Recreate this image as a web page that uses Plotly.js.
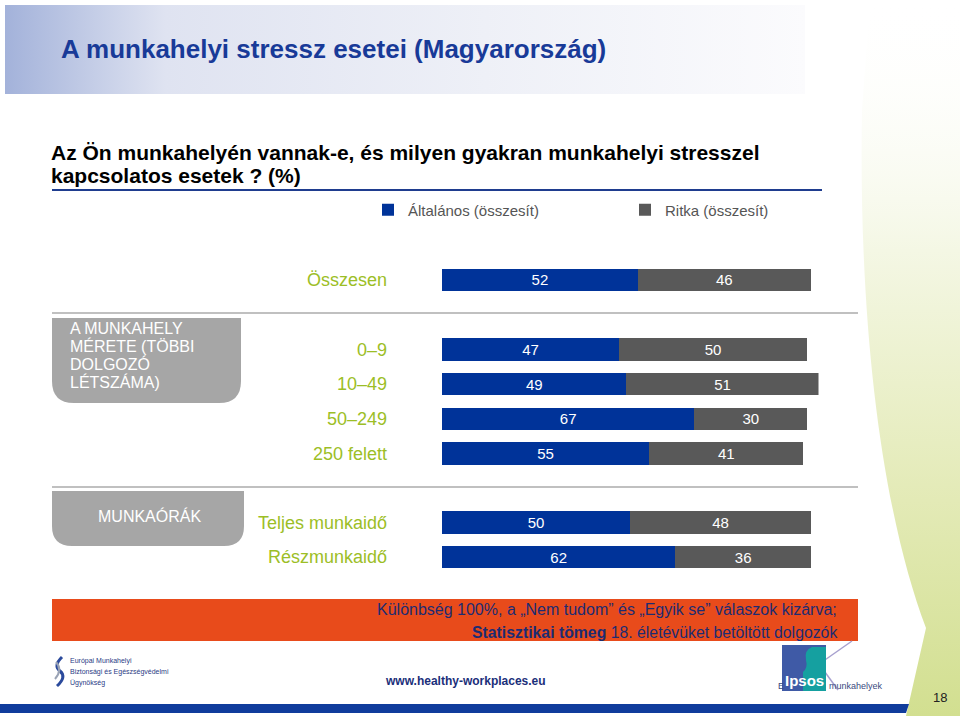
<!DOCTYPE html>
<html>
<head>
<meta charset="utf-8">
<script src="https://cdn.plot.ly/plotly-3.0.1.min.js"></script>
<style>
html,body{margin:0;padding:0;background:#fff;}
#chart{width:960px;height:716px;}
</style>
</head>
<body>
<div id="chart"></div>
<script>
// ---- data ----
const seriesNames = ['Általános (összesít)', 'Ritka (összesít)'];
const catTotal = ['Összesen'];
const catSize = ['0–9', '10–49', '50–249', '250 felett'];
const catHours = ['Teljes munkaidő', 'Részmunkaidő'];
const generalTotal = [52];
const rareTotal = [46];
const generalSize = [47, 49, 67, 55];
const rareSize = [50, 51, 30, 41];
const generalHours = [50, 62];
const rareHours = [48, 36];
const sizeBoxLines = ['A MUNKAHELY', 'MÉRETE (TÖBBI', 'DOLGOZÓ', 'LÉTSZÁMA)'];
const hoursBoxLabel = 'MUNKAÓRÁK';

// ---- helpers ----
const W = 960, H = 716;
const X = p => p / W;
const Y = p => 1 - p / H;
const P = s => s.replace(/(-?[\d.]+),(-?[\d.]+)/g, (m, a, b) => X(+a).toFixed(5) + ',' + Y(+b).toFixed(5));
const FONT = 'Liberation Sans, Arial, sans-serif';
const BLUE = '#003399', GREY = '#595959', LABEL = '#9cbe26';

function bar(name, cats, vals, color, yax, show) {
  return {
    type: 'bar', orientation: 'h', name: name, y: cats, x: vals,
    xaxis: 'x', yaxis: yax,
    marker: {color: color, line: {width: 0}},
    texttemplate: '%{x}', textposition: 'inside', insidetextanchor: 'middle', textangle: 0,
    textfont: {color: '#ffffff', size: 15, family: FONT},
    constraintext: 'none',
    showlegend: show, legendgroup: name, hoverinfo: 'skip'
  };
}

const data = [
  bar(seriesNames[0], catTotal, generalTotal, BLUE, 'y', true),
  bar(seriesNames[1], catTotal, rareTotal, GREY, 'y', true),
  bar(seriesNames[0], catSize, generalSize, BLUE, 'y2', false),
  bar(seriesNames[1], catSize, rareSize, GREY, 'y2', false),
  bar(seriesNames[0], catHours, generalHours, BLUE, 'y3', false),
  bar(seriesNames[1], catHours, rareHours, GREY, 'y3', false)
];

function yax(cats, top, bottom) {
  return {
    domain: [Y(bottom), Y(top)], anchor: 'x', type: 'category',
    range: [cats.length - 0.5, -0.5],
    showgrid: false, zeroline: false, showline: false, ticks: '',
    tickfont: {size: 18, color: LABEL, family: FONT},
    ticklabelstandoff: 54, fixedrange: true
  };
}

function svgUri(s) { return 'data:image/svg+xml;charset=utf-8,' + encodeURIComponent(s); }
const headerSvg = "<svg xmlns='http://www.w3.org/2000/svg' width='800' height='89' viewBox='0 0 800 89' preserveAspectRatio='none'><defs><linearGradient id='g' x1='0' x2='1' y1='0' y2='0'><stop offset='0' stop-color='#a3b2da'/><stop offset='0.2' stop-color='#dfe3f1'/><stop offset='0.6' stop-color='#eef0f7'/><stop offset='1' stop-color='#fbfbfd'/></linearGradient></defs><rect width='800' height='89' fill='url(#g)'/></svg>";
const swooshSvg = "<svg xmlns='http://www.w3.org/2000/svg' width='120' height='716' viewBox='0 0 120 716' preserveAspectRatio='none'><defs><linearGradient id='s' x1='0' x2='0' y1='0' y2='1'><stop offset='0' stop-color='#ffffff' stop-opacity='0'/><stop offset='0.35' stop-color='#f4f7e4'/><stop offset='0.7' stop-color='#e3eab6'/><stop offset='1' stop-color='#d2df90'/></linearGradient></defs><path d='M22,110 C18,340 45,520 86,628 L66,716 L120,716 L120,0 L30,0 Z' fill='url(#s)'/></svg>";

const shapes = [
  // blue rule under the question
  {type: 'line', xref: 'paper', yref: 'paper', x0: X(52), x1: X(822), y0: Y(190), y1: Y(190), line: {color: '#1f3d8f', width: 2}, layer: 'below'},
  // grey separators
  {type: 'line', xref: 'paper', yref: 'paper', x0: X(52), x1: X(858), y0: Y(313), y1: Y(313), line: {color: '#c0c0c0', width: 2}, layer: 'below'},
  {type: 'line', xref: 'paper', yref: 'paper', x0: X(52), x1: X(858), y0: Y(487), y1: Y(487), line: {color: '#c0c0c0', width: 2}, layer: 'below'},
  // grey boxes
  {type: 'path', xref: 'paper', yref: 'paper', path: P('M52,318 L241,318 L241,381 Q241,403 219,403 L74,403 Q52,403 52,381 Z'), fillcolor: '#a6a6a6', line: {width: 0}, layer: 'below'},
  {type: 'path', xref: 'paper', yref: 'paper', path: P('M52,491 L244,491 L244,526 Q244,546 224,546 L72,546 Q52,546 52,526 Z'), fillcolor: '#a6a6a6', line: {width: 0}, layer: 'below'},
  // orange banner
  {type: 'rect', xref: 'paper', yref: 'paper', x0: X(52), x1: X(858), y0: Y(641), y1: Y(599), fillcolor: '#e84b1b', line: {width: 0}, layer: 'below'},
  // bottom blue bar
  {type: 'path', xref: 'paper', yref: 'paper', path: P('M0,704 L909,704 L906,713 L0,713 Z'), fillcolor: '#103c9c', line: {width: 0}, layer: 'below'},
  // left logo glyph
  {type: 'path', xref: 'paper', yref: 'paper', path: P('M62,657 Q53,666 60,671 Q67,677 57,686'), line: {color: '#2b4a9c', width: 3}, layer: 'below'},
  {type: 'path', xref: 'paper', yref: 'paper', path: P('M56,662 Q63,670 55,679'), line: {color: '#9aa3b5', width: 2}, layer: 'below'},
  // Ipsos logo
  {type: 'line', xref: 'paper', yref: 'paper', x0: X(822), x1: X(852), y0: Y(662), y1: Y(641), line: {color: '#a7a0cf', width: 1.5}, layer: 'below'},
  {type: 'line', xref: 'paper', yref: 'paper', x0: X(822), x1: X(838), y0: Y(668), y1: Y(690), line: {color: '#a7a0cf', width: 1.5}, layer: 'below'},
  {type: 'rect', xref: 'paper', yref: 'paper', x0: X(782), x1: X(826), y0: Y(691), y1: Y(645), fillcolor: '#3f5aa6', line: {width: 0}, layer: 'below'},
  {type: 'path', xref: 'paper', yref: 'paper', path: P('M803,691 L803,672 Q808,668 806,660 Q804,650 812,647 L826,647 L826,691 Z'), fillcolor: '#15a0a0', line: {width: 0}, layer: 'below'}
];

const ann = [];
function txt(text, x, y, o) {
  ann.push(Object.assign({xref: 'paper', yref: 'paper', x: X(x), y: Y(y), text: text, showarrow: false,
    xanchor: 'left', yanchor: 'middle', font: {family: FONT, size: 14, color: '#000'}}, o || {}));
}
txt('<b>A munkahelyi stressz esetei (Magyarország)</b>', 59, 49, {font: {family: FONT, size: 26, color: '#183a98'}});
txt('<b>Az Ön munkahelyén vannak-e, és milyen gyakran munkahelyi stresszel</b>', 49, 152, {font: {family: FONT, size: 21, color: '#000'}});
txt('<b>kapcsolatos esetek ? (%)</b>', 49, 176, {font: {family: FONT, size: 21, color: '#000'}});
sizeBoxLines.forEach((l, i) => txt(l, 68, 328 + 18 * i, {font: {family: FONT, size: 16, color: '#ffffff'}}));
txt(hoursBoxLabel, 149, 516, {xanchor: 'center', font: {family: FONT, size: 16, color: '#ffffff'}});
txt('Különbség 100%, a „Nem tudom” és „Egyik se” válaszok kizárva;', 839, 609, {xanchor: 'right', font: {family: FONT, size: 16, color: '#1c2c72'}});
txt('<b>Statisztikai tömeg</b> 18. életévüket betöltött dolgozók', 839, 632, {xanchor: 'right', font: {family: FONT, size: 15.8, color: '#1c2c72'}});
txt('Európai Munkahelyi', 68, 661, {font: {family: FONT, size: 7, color: '#2a3b85'}});
txt('Biztonsági és Egészségvédelmi', 68, 672, {font: {family: FONT, size: 7, color: '#2a3b85'}});
txt('Ügynökség', 68, 683, {font: {family: FONT, size: 7, color: '#2a3b85'}});
txt('<b>www.healthy-workplaces.eu</b>', 465, 681, {xanchor: 'center', font: {family: FONT, size: 12, color: '#1b2f7a'}});
txt('<b>Ipsos</b>', 804, 680, {xanchor: 'center', font: {family: FONT, size: 15, color: '#ffffff'}});
txt('E', 776, 686, {font: {family: FONT, size: 9, color: '#3b4a80'}});
txt('munkahelyek', 827, 686, {font: {family: FONT, size: 9, color: '#3b4a80'}});
txt('18', 940, 697, {xanchor: 'center', font: {family: FONT, size: 13, color: '#222'}});

const layout = {
  width: W, height: H,
  margin: {l: 0, r: 0, t: 0, b: 0, pad: 0},
  paper_bgcolor: '#ffffff', plot_bgcolor: 'rgba(0,0,0,0)',
  barmode: 'stack', bargap: 0.35,
  showlegend: true,
  legend: {orientation: 'h', x: X(368), xanchor: 'left', y: Y(210), yanchor: 'middle',
    font: {family: FONT, size: 15, color: '#555'}, bgcolor: 'rgba(0,0,0,0)',
    entrywidth: 212, entrywidthmode: 'pixels', traceorder: 'normal'},
  xaxis: {domain: [X(442), X(818.5)], range: [0, 100], visible: false, fixedrange: true, anchor: 'y'},
  yaxis: yax(catTotal, 262.7, 297.3),
  yaxis2: yax(catSize, 332.2, 470.8),
  yaxis3: yax(catHours, 505.2, 574.3),
  shapes: shapes,
  annotations: ann,
  images: [
    {source: svgUri(headerSvg), xref: 'paper', yref: 'paper', x: X(5), y: Y(5), sizex: 800 / W, sizey: 89 / H, sizing: 'stretch', xanchor: 'left', yanchor: 'top', layer: 'below'},
    {source: svgUri(swooshSvg), xref: 'paper', yref: 'paper', x: X(840), y: Y(0), sizex: 120 / W, sizey: 716 / H, sizing: 'stretch', xanchor: 'left', yanchor: 'top', layer: 'below'}
  ]
};

Plotly.newPlot('chart', data, layout, {displayModeBar: false, staticPlot: true});
</script>
</body>
</html>
